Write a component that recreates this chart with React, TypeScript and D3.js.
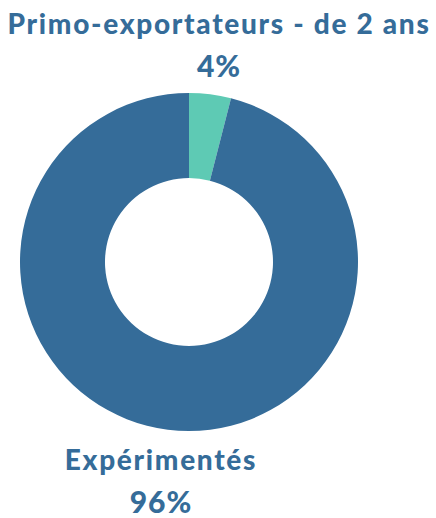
import * as d3 from "d3";
import { useEffect, useRef } from "react";

const labels = ["Primo-exportateurs - de 2 ans", "Expérimentés"];
const values = [4, 96];
const colors = ["#5ecab4", "#356c99"];

const W = 436;
const H = 518;

const App = () => {
  const ref = useRef<SVGSVGElement | null>(null);

  useEffect(() => {
    if (!ref.current) return;
    const svg = d3.select(ref.current);
    svg.selectAll("*").remove();

    const cx = 189;
    const cy = 262;
    const outer = 169;
    const inner = 84;

    const pie = d3.pie<number>().sort(null).value((d) => d);
    const arc = d3.arc<d3.PieArcDatum<number>>().innerRadius(inner).outerRadius(outer);

    const g = svg.append("g").attr("transform", `translate(${cx},${cy})`);
    g.selectAll("path")
      .data(pie(values))
      .enter()
      .append("path")
      .attr("d", arc)
      .attr("fill", (_, i) => colors[i]);

    // label positions (name baseline, percent baseline)
    const pos = [
      { x: 219, y1: 34, y2: 77 },
      { x: 161, y1: 470, y2: 513 },
    ];
    const total = d3.sum(values);

    labels.forEach((l, i) => {
      const t = svg
        .append("text")
        .attr("text-anchor", "middle")
        .attr("font-family", "Lato, sans-serif")
        .attr("font-weight", 900)
        .attr("fill", "#356c99");
      t.append("tspan")
        .attr("x", pos[i].x)
        .attr("y", pos[i].y1)
        .attr("font-size", 28)
        .attr("letter-spacing", 1.7)
        .text(l);
      t.append("tspan")
        .attr("x", pos[i].x)
        .attr("y", pos[i].y2)
        .attr("font-size", 30)
        .attr("letter-spacing", 1)
        .text(`${Math.round((values[i] / total) * 100)}%`);
    });
  }, []);

  return (
    <svg
      ref={ref}
      width={W}
      height={H}
      style={{ position: "absolute", left: 0, top: 0, background: "#fff" }}
    />
  );
};

export default App;
